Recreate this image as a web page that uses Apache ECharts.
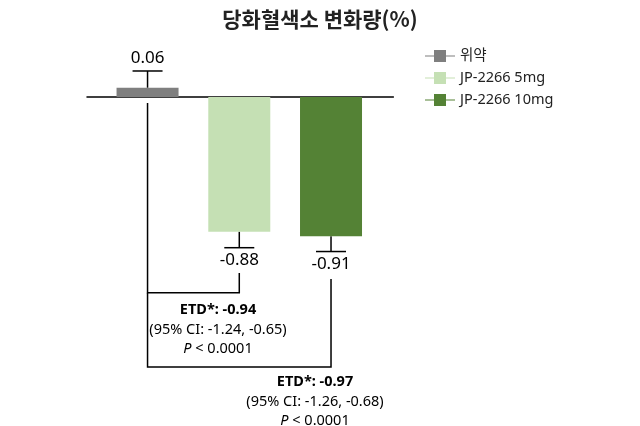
<!DOCTYPE html>
<html>
<head>
<meta charset="utf-8">
<script src="https://cdn.jsdelivr.net/npm/echarts@6/dist/echarts.min.js"></script>
<style>
html,body{margin:0;padding:0;background:#fff;}
#chart{width:640px;height:426px;}
</style>
</head>
<body>
<div id="chart"></div>
<script>
var myChart = echarts.init(document.getElementById('chart'));

// 데이터
var groups = ['위약', 'JP-2266 5mg', 'JP-2266 10mg'];
var values = [0.06, -0.88, -0.91];
var errEnds = [0.17, -0.985, -1.01];
var colors = ['#7f7f7f', '#c5e0b4', '#548235'];
// 비교 괄호: [시작 그룹, 끝 그룹, 가로선 높이, 왼쪽 시작, 오른쪽 시작]
var brackets = [
    [0, 1, -1.28, -0.04, -1.15],
    [0, 2, -1.765, -1.28, -1.19]
];
var etdText = [
    ['ETD*: -0.94', '(95% CI: -1.24, -0.65)', '0.0001'],
    ['ETD*: -0.97', '(95% CI: -1.26, -0.68)', '0.0001']
];

var latin = '"Noto Sans", "Noto Sans CJK KR", sans-serif';

var series = [];
for (var i = 0; i < groups.length; i++) {
    series.push({
        name: groups[i],
        type: 'bar',
        data: [[i, values[i]]],
        barWidth: 62,
        barGap: '-100%',
        itemStyle: {color: colors[i]},
        silent: true
    });
}

var errData = [];
for (var i = 0; i < groups.length; i++) {
    errData.push([i, values[i], errEnds[i]]);
}
series.push({
    type: 'custom',
    silent: true,
    data: errData,
    renderItem: function (params, api) {
        var x = api.value(0), v = api.value(1), e = api.value(2);
        var p0 = api.coord([x, v]);
        var p1 = api.coord([x, e]);
        var dir = e > 0 ? -1 : 1;
        return {
            type: 'group',
            children: [
                {type: 'line', shape: {x1: p0[0], y1: p0[1], x2: p1[0], y2: p1[1]},
                    style: {stroke: '#000', lineWidth: 1.5}},
                {type: 'line', shape: {x1: p1[0] - 15, y1: p1[1], x2: p1[0] + 15, y2: p1[1]},
                    style: {stroke: '#000', lineWidth: 1.5}},
                {type: 'text', x: p1[0], y: p1[1] + dir * 12.5,
                    style: {text: v.toFixed(2), align: 'center', verticalAlign: 'middle',
                        font: '17px ' + latin, fill: '#000'}}
            ]
        };
    }
});

series.push({
    type: 'custom',
    silent: true,
    data: brackets,
    renderItem: function (params, api) {
        var a = api.value(0), b = api.value(1), h = api.value(2);
        var pl = api.coord([a, api.value(3)]);
        var pr = api.coord([b, api.value(4)]);
        var yh = api.coord([a, h])[1];
        return {
            type: 'polyline',
            shape: {points: [[pl[0], pl[1]], [pl[0], yh], [pr[0], yh], [pr[0], pr[1]]]},
            style: {stroke: '#000', lineWidth: 1.5, fill: null}
        };
    }
});

function etdBlock(lines, cx, y0) {
    var fs = '14.5px ';
    var rich = {
        i: {font: 'italic ' + fs + latin, fill: '#000'},
        n: {font: fs + latin, fill: '#000'}
    };
    var base = {align: 'center', verticalAlign: 'middle', fill: '#000', font: fs + latin};
    return [
        {type: 'text', x: cx, y: y0, style: Object.assign({}, base, {text: lines[0], font: 'bold ' + fs + latin})},
        {type: 'text', x: cx, y: y0 + 19.5, style: Object.assign({}, base, {text: lines[1]})},
        {type: 'text', x: cx, y: y0 + 39, style: Object.assign({}, base, {text: '{i|P}{n| < ' + lines[2] + '}', rich: rich})}
    ];
}

myChart.setOption({
    animation: false,
    title: {
        text: '당화혈색소 변화량(%)',
        left: 'center',
        top: 4,
        textStyle: {fontFamily: '"Noto Sans CJK KR", sans-serif', fontSize: 21, fontWeight: 'bold', color: '#222'}
    },
    legend: {
        orient: 'vertical',
        left: 425,
        top: 48,
        padding: 0,
        itemWidth: 30,
        itemHeight: 12,
        itemGap: 6,
        icon: 'path://M0,5.4H9V6.6H0ZM9,0H21V12H9ZM21,5.4H30V6.6H21Z',
        textStyle: {fontFamily: latin, fontSize: 14.5, color: '#222', lineHeight: 16},
        data: groups
    },
    grid: {left: 87, width: 306.4, top: 35.8, height: 336.6},
    xAxis: {
        type: 'value',
        min: -0.66,
        max: 2.68,
        splitLine: {show: false},
        axisTick: {show: false},
        axisLabel: {show: false},
        axisLine: {show: true, onZero: true, lineStyle: {color: '#000', width: 1.5}}
    },
    yAxis: {
        type: 'value',
        min: -1.8,
        max: 0.4,
        show: false,
        splitLine: {show: false}
    },
    graphic: etdBlock(etdText[0], 218, 310).concat(etdBlock(etdText[1], 315, 382)),
    series: series
});
</script>
</body>
</html>
